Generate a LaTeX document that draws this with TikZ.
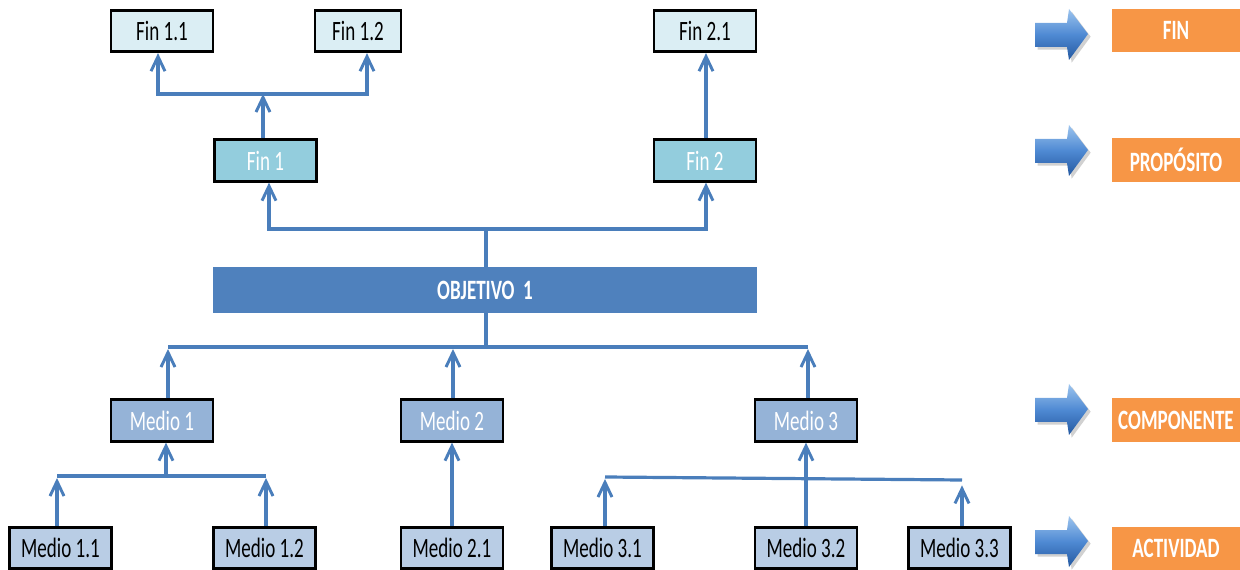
\documentclass[tikz,border=0pt]{standalone}
\usepackage{fontspec}
\setmainfont[FakeStretch=0.68]{Carlito}
\usetikzlibrary{arrows.meta,shadows}
\definecolor{lineblue}{HTML}{4A7EBB}
\definecolor{finlight}{HTML}{DBEEF4}
\definecolor{finmid}{HTML}{93CDDD}
\definecolor{mediomid}{HTML}{95B3D7}
\definecolor{mediolight}{HTML}{B9CDE5}
\definecolor{objblue}{HTML}{4F81BD}
\definecolor{orangelbl}{HTML}{F79646}
\definecolor{arrtop}{HTML}{9CC4EE}
\definecolor{arrmid}{HTML}{4F8AD3}
\definecolor{arrbot}{HTML}{2458A0}
\tikzset{
  every node/.style={font=\fontsize{21pt}{24pt}\selectfont, inner sep=0pt},
  box/.style={draw=black, line width=2.2pt, minimum width=76.5pt, minimum height=31pt},
  fintop/.style={box, fill=finlight, text=black},
  finmidbox/.style={box, fill=finmid, text=white},
  mediobox/.style={box, fill=mediomid, text=white},
  mediolow/.style={box, fill=mediolight, text=black},
  conn/.style={draw=lineblue, line width=2.4pt},
  arr/.style={conn, -{Straight Barb[length=11pt, width=10.5pt, line width=2.2pt]}},
  lbl/.style={fill=orangelbl, text=white, font=\fontsize{21pt}{24pt}\selectfont\bfseries, minimum width=96pt, minimum height=32.5pt},
  blockarr/.style={top color=arrtop, bottom color=arrbot, middle color=arrmid, draw=none, drop shadow={shadow xshift=2pt, shadow yshift=-2pt, fill=black!40, opacity=0.45}},
}
\newcommand\legendarrow[2]{%
  \begin{scope}[shift={(#1,#2)}]
    \path[blockarr] (-26,-12) -- (6,-12) -- (8,-26) -- (27,-1) -- (8,25) -- (6,12) -- (-26,12) -- cycle;
  \end{scope}}
\begin{document}
\begin{tikzpicture}[x=0.75pt, y=-0.75pt]
\useasboundingbox (0,0) rectangle (1240,570);

% top row
\node[fintop] (f11) at (162,31) {Fin 1.1};
\node[fintop, minimum width=64.5pt] (f12) at (358,31) {Fin 1.2};
\node[fintop] (f21) at (705,31) {Fin 2.1};
% fin row
\node[finmidbox] (f1) at (265.5,160.5) {Fin 1};
\node[finmidbox] (f2) at (705,160.5) {Fin 2};
% objective
\node[fill=objblue, text=white, minimum width=408pt, minimum height=34.5pt, font=\fontsize{21pt}{24pt}\selectfont\bfseries] (obj) at (485,290) {OBJETIVO\ \ 1};
% medio row
\node[mediobox] (m1) at (162,420.5) {Medio 1};
\node[mediobox] (m2) at (452,420.5) {Medio 2};
\node[mediobox] (m3) at (806,420.5) {Medio 3};
% bottom row
\node[mediolow] (m11) at (60.5,548) {Medio 1.1};
\node[mediolow] (m12) at (264.5,548) {Medio 1.2};
\node[mediolow] (m21) at (452,548) {Medio 2.1};
\node[mediolow] (m31) at (602.5,548) {Medio 3.1};
\node[mediolow] (m32) at (806,548) {Medio 3.2};
\node[mediolow] (m33) at (959.5,548) {Medio 3.3};

% coordinates for junctions
\coordinate (a1) at (263,94);
\coordinate (a1l) at (158,94);
\coordinate (a1r) at (367,94);
\coordinate (b0) at (486,229);
\coordinate (b1) at (269,229);
\coordinate (b2) at (706,229);
\coordinate (c0) at (486,347);
\coordinate (c1) at (168,347);
\coordinate (c2) at (453,347);
\coordinate (c3) at (808,347);
\coordinate (d0) at (166,476);
\coordinate (d1) at (57,476);
\coordinate (d2) at (266,476);
\coordinate (e1) at (605,477);
\coordinate (e3) at (962,480);

% Fin 1 -> Fin 1.1 / 1.2
\draw[arr] (f1.north -| a1) -- (a1);
\draw[conn, line cap=rect] (a1l) -- (a1r);
\draw[arr] (a1l) -- (f11.south -| a1l);
\draw[arr] (a1r) -- (f12.south -| a1r);
% Fin 2 -> Fin 2.1
\draw[arr] (f2.north -| 706,0) -- (f21.south -| 706,0);
% Objective -> Fin 1 / Fin 2
\draw[conn] (obj.north -| b0) -- (b0);
\draw[conn, line cap=rect] (b1) -- (b2);
\draw[arr] (b1) -- (f1.south -| b1);
\draw[arr] (b2) -- (f2.south -| b2);
% Objective -> medios
\draw[conn] (obj.south -| c0) -- (c0);
\draw[conn] (c1) -- (c3);
\draw[arr] (m1.north -| c1) -- ([yshift=-1.5pt]c1);
\draw[arr] (m2.north -| c2) -- ([yshift=-1.5pt]c2);
\draw[arr] (m3.north -| c3) -- ([yshift=-1.5pt]c3);
% Medio 1 group
\draw[conn] (d1) -- (d2);
\draw[arr] (d0) -- (m1.south -| d0);
\draw[arr] (m11.north -| d1) -- ([yshift=-1.5pt]d1);
\draw[arr] (m12.north -| d2) -- ([yshift=-1.5pt]d2);
% Medio 2
\draw[arr] (m21.north) -- (m2.south);
% Medio 3 group
\draw[conn] (e1) -- (e3);
\draw[arr] (m32.north) -- (m3.south);
\draw[arr] (m31.north -| e1) -- ([yshift=-1.5pt]e1);
\draw[arr] (m33.north -| e3) -- ([yshift=-4pt]e3);

% right legend
\legendarrow{1061}{35}
\legendarrow{1061}{151}
\legendarrow{1061}{410}
\legendarrow{1061}{542}
\node[lbl] (l1) at (1176,30.5) {FIN};
\node[lbl] (l2) at (1176,160) {PROPÓSITO};
\node[lbl] (l3) at (1176,420) {COMPONENTE};
\node[lbl] (l4) at (1176,548.5) {ACTIVIDAD};
\end{tikzpicture}
\end{document}
